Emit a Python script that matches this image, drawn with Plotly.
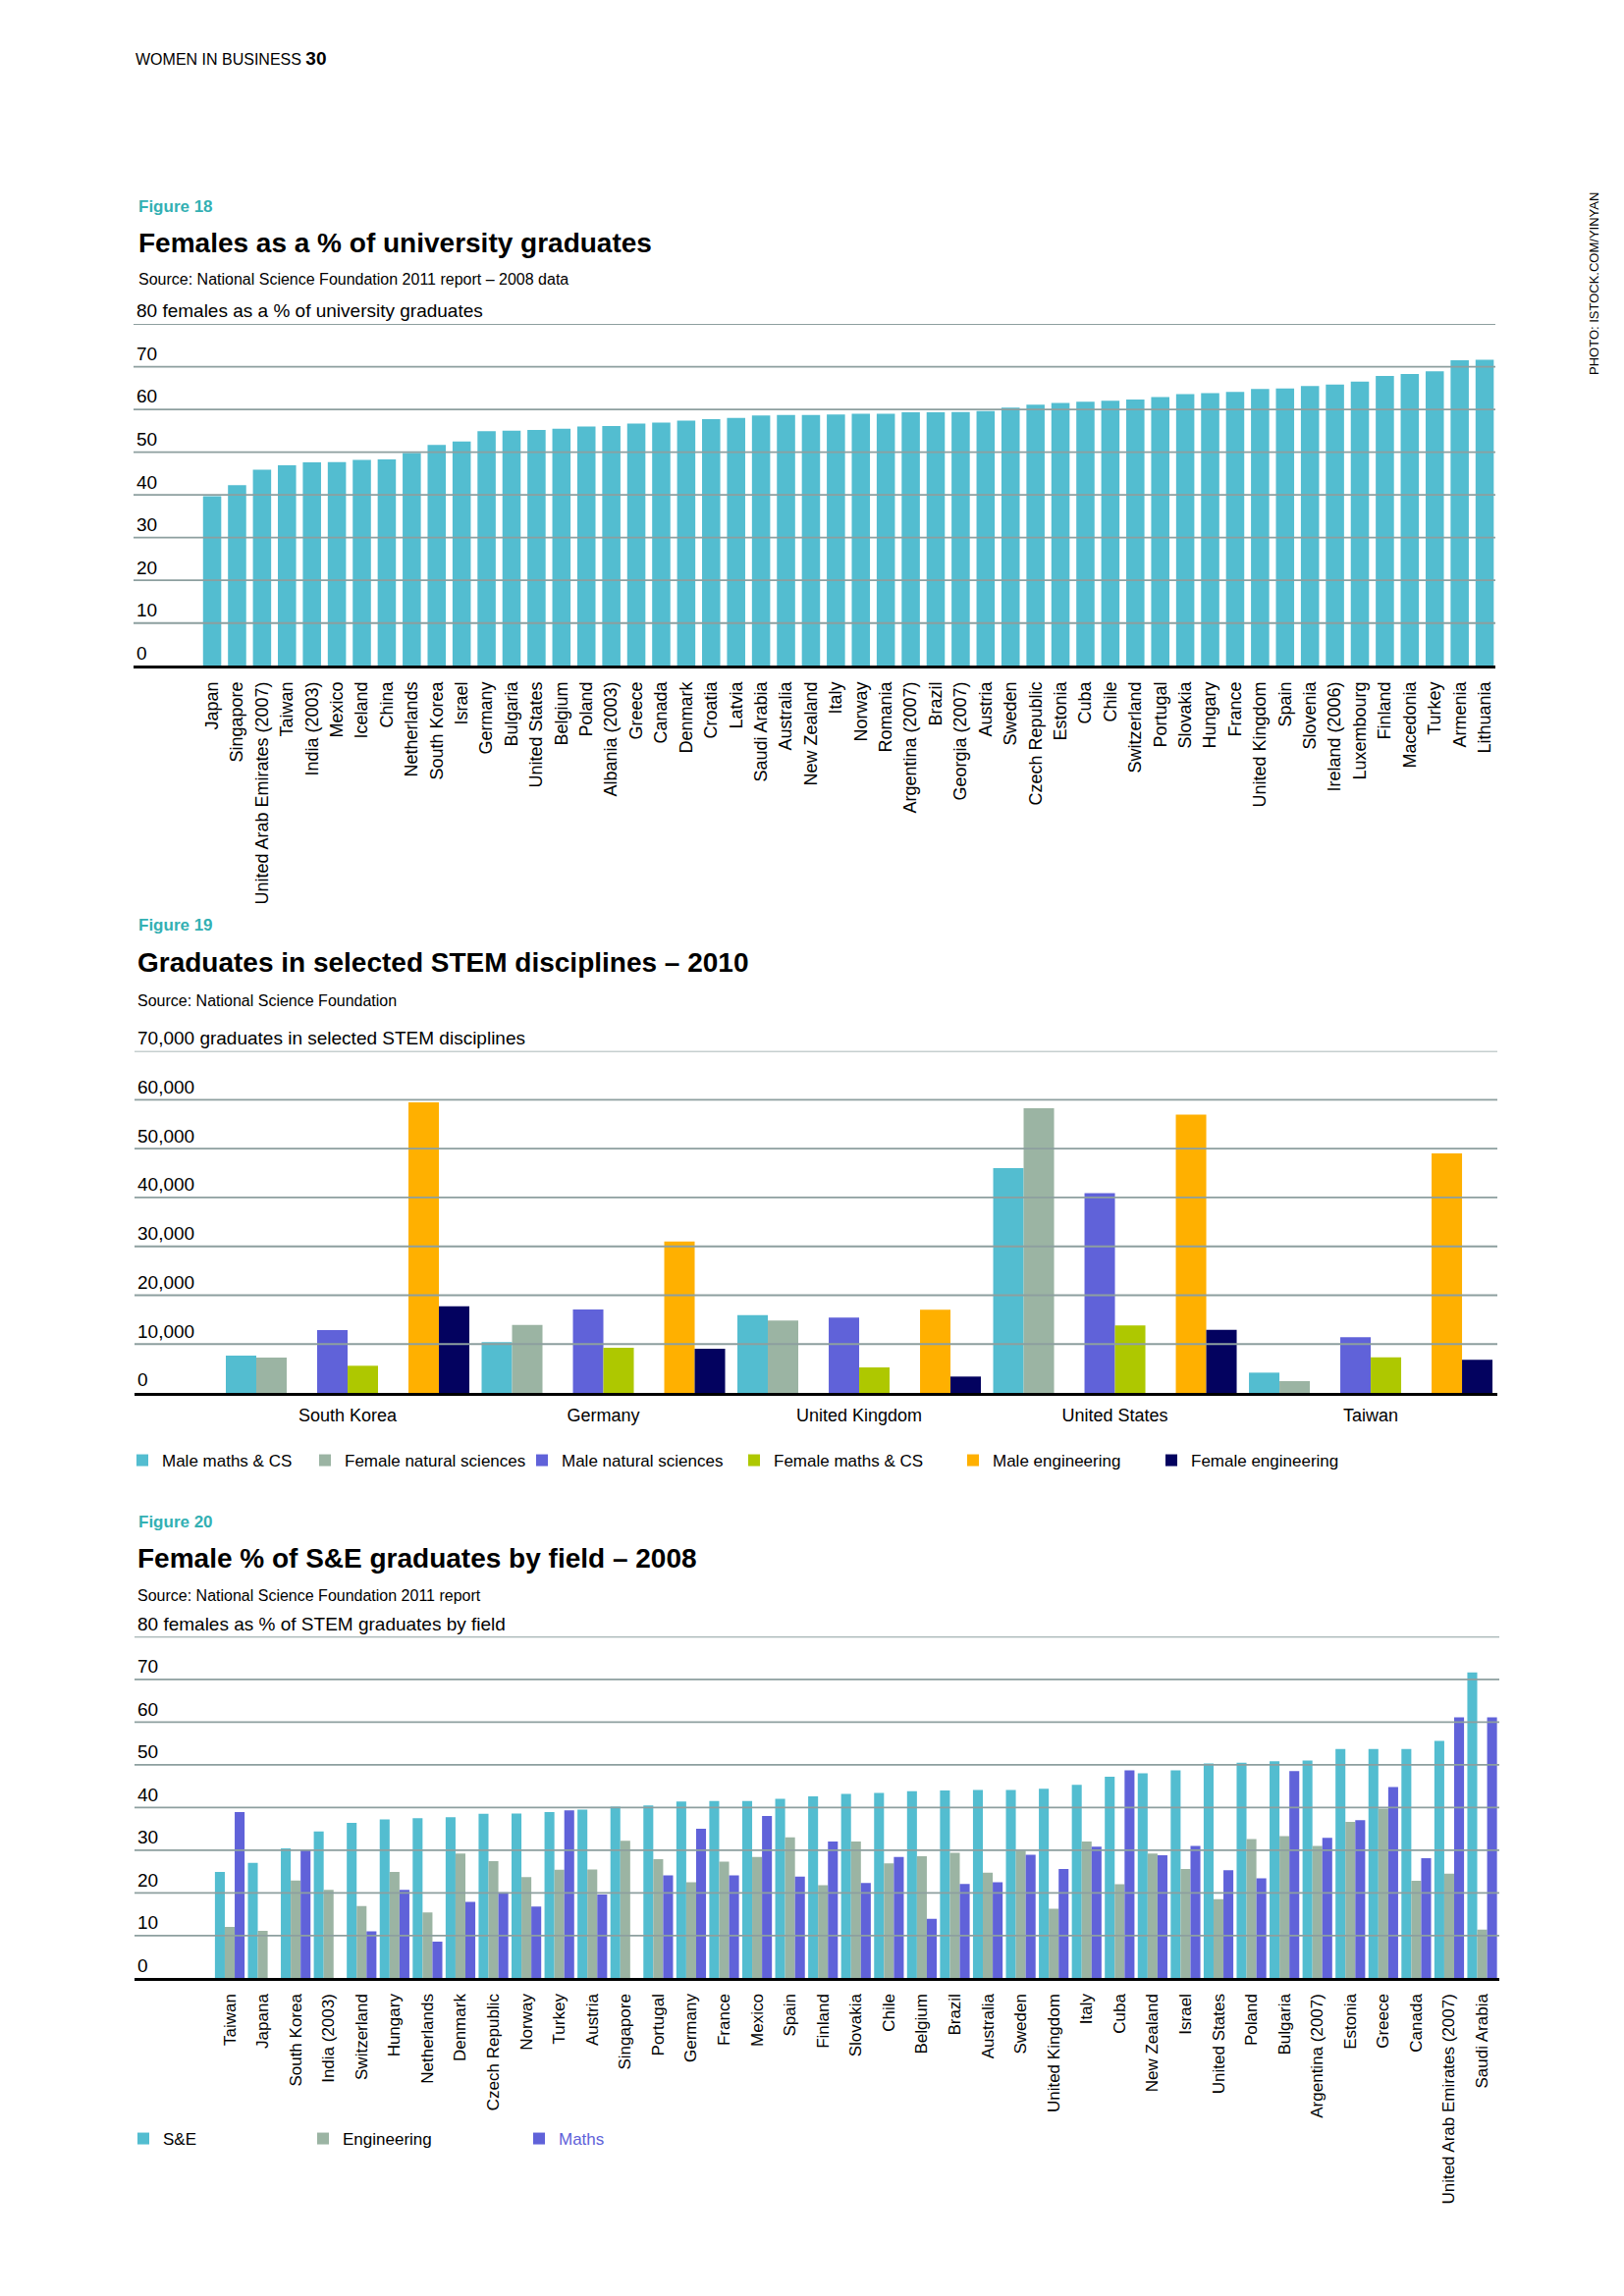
import plotly.graph_objects as go

# ---------------- DATA ----------------
fig18_countries = ["Japan", "Singapore", "United Arab Emirates (2007)", "Taiwan", "India (2003)", "Mexico",
                   "Iceland", "China", "Netherlands", "South Korea", "Israel", "Germany", "Bulgaria",
                   "United States", "Belgium", "Poland", "Albania (2003)", "Greece", "Canada", "Denmark",
                   "Croatia", "Latvia", "Saudi Arabia", "Australia", "New Zealand", "Italy", "Norway",
                   "Romania", "Argentina (2007)", "Brazil", "Georgia (2007)", "Austria", "Sweden",
                   "Czech Republic", "Estonia", "Cuba", "Chile", "Switzerland", "Portugal", "Slovakia",
                   "Hungary", "France", "United Kingdom", "Spain", "Slovenia", "Ireland (2006)",
                   "Luxembourg", "Finland", "Macedonia", "Turkey", "Armenia", "Lithuania"]
fig18_values = [39.7, 42.3, 45.9, 46.9, 47.6, 47.7, 48.2, 48.3, 49.8, 51.7, 52.5, 54.9, 55.0,
                55.2, 55.5, 56.0, 56.1, 56.7, 56.9, 57.4, 57.7, 58.0, 58.6, 58.7, 58.7, 58.8, 59.0,
                59.0, 59.3, 59.3, 59.4, 59.6, 60.4, 61.1, 61.5, 61.8, 62.0, 62.3, 62.9, 63.6,
                63.8, 64.1, 64.8, 64.9, 65.5, 65.8, 66.5, 67.8, 68.3, 68.9, 71.5, 71.6]
fig18_ticks = [0, 10, 20, 30, 40, 50, 60, 70, 80]
fig18_ticktext = ["0", "10", "20", "30", "40", "50", "60", "70", "80 females as a % of university graduates"]

fig19_countries = ["South Korea", "Germany", "United Kingdom", "United States", "Taiwan"]
male_maths_cs = [7640, 10380, 15940, 46010, 4150]
female_natural_sciences = [7230, 13930, 14800, 58270, 2410]
male_natural_sciences = [12860, 17080, 15400, 40920, 11390]
female_maths_cs = [5560, 9240, 5220, 13800, 7300]
male_engineering = [59480, 31010, 17010, 57000, 49030]
female_engineering = [17750, 9040, 3350, 12930, 6770]
fig19_ticks = [0, 10000, 20000, 30000, 40000, 50000, 60000, 70000]
fig19_ticktext = ["0", "10,000", "20,000", "30,000", "40,000", "50,000", "60,000",
                  "70,000 graduates in selected STEM disciplines"]

fig20_countries = ["Taiwan", "Japana", "South Korea", "India (2003)", "Switzerland", "Hungary",
                   "Netherlands", "Denmark", "Czech Republic", "Norway", "Turkey", "Austria",
                   "Singapore", "Portugal", "Germany", "France", "Mexico", "Spain", "Finland",
                   "Slovakia", "Chile", "Belgium", "Brazil", "Australia", "Sweden", "United Kingdom",
                   "Italy", "Cuba", "New Zealand", "Israel", "United States", "Poland", "Bulgaria",
                   "Argentina (2007)", "Estonia", "Greece", "Canada", "United Arab Emirates (2007)",
                   "Saudi Arabia"]
se_values = [24.9, 27.0, 30.4, 34.4, 36.4, 37.2, 37.5, 37.7, 38.5, 38.6, 38.9, 39.5, 40.2, 40.5,
             41.4, 41.5, 41.5, 42.0, 42.6, 43.2, 43.4, 43.8, 44.0, 44.1, 44.1, 44.4, 45.3, 47.2,
             48.0, 48.7, 50.3, 50.5, 50.8, 51.0, 53.7, 53.7, 53.7, 55.6, 71.6]
engineering_values = [12.0, 11.1, 22.9, 20.7, 16.9, 24.9, 15.4, 29.2, 27.4, 23.7, 25.4, 25.5, 32.2,
                      27.9, 22.5, 27.3, 28.4, 33.0, 21.8, 32.0, 26.9, 28.6, 29.4, 24.7, 29.9, 16.3,
                      32.0, 22.0, 29.2, 25.6, 18.5, 32.6, 33.3, 31.0, 36.6, 39.7, 22.8, 24.5, 11.4]
maths_values = [38.9, None, 30.2, None, 11.0, 20.7, 8.6, 17.9, 20.1, 16.8, 39.3, 19.6, None, 24.1,
                35.0, 24.1, 38.0, 23.8, 32.0, 22.3, 28.4, 13.9, 22.1, 22.5, 28.9, 25.6, 30.8, 48.7,
                28.8, 31.0, 25.3, 23.4, 48.5, 32.9, 37.0, 44.8, 28.1, 61.1, 61.1]
fig20_ticks = [0, 10, 20, 30, 40, 50, 60, 70, 80]
fig20_ticktext = ["0", "10", "20", "30", "40", "50", "60", "70", "80 females as % of STEM graduates by field"]

# ---------------- STYLE ----------------
W, H = 1654, 2339
FONT = "Liberation Sans, Arial, sans-serif"
TEAL = "#33b0b3"
CYAN = "#53bdd0"
GREY = "#9bb4a3"
BLUE = "#6062d9"
GREEN = "#aec800"
ORANGE = "#ffb000"
NAVY = "#03025f"
GRID = "#8d9f9f"


def fx(p):
    return p / W


def fy(p):
    return 1 - p / H


fig = go.Figure()

# Figure 18
fig.add_trace(go.Bar(x=fig18_countries, y=fig18_values, marker=dict(color=CYAN, line=dict(width=0)),
                     width=0.73, showlegend=False, xaxis="x", yaxis="y"))

# Figure 19
bw = 0.119
pair = 0.357
fig19_series = [
    ("Male maths & CS", male_maths_cs, CYAN, -pair - bw, 143),
    ("Female natural sciences", female_natural_sciences, GREY, -pair, 329),
    ("Male natural sciences", male_natural_sciences, BLUE, -bw, 550),
    ("Female maths & CS", female_maths_cs, GREEN, 0.0, 766),
    ("Male engineering", male_engineering, ORANGE, pair - bw, 989),
    ("Female engineering", female_engineering, NAVY, pair, 1191),
]
legend_layouts = {}
for i, (name, vals, col, off, sq) in enumerate(fig19_series):
    lname = "legend" if i == 0 else f"legend{i + 1}"
    fig.add_trace(go.Bar(x=fig19_countries, y=vals, name=name, marker=dict(color=col, line=dict(width=0)),
                         offset=off, width=bw, xaxis="x2", yaxis="y2", legend=lname))
    legend_layouts[lname] = dict(x=fx(sq - 18), y=fy(1488), xanchor="left", yanchor="middle",
                                 orientation="h", bgcolor="rgba(0,0,0,0)",
                                 font=dict(family=FONT, size=17, color="#000000"))

# Figure 20
fig20_series = [
    ("S&E", se_values, CYAN, 144, "#000000"),
    ("Engineering", engineering_values, GREY, 327, "#000000"),
    ("Maths", maths_values, BLUE, 547, BLUE),
]
for j, (name, vals, col, sq, tcol) in enumerate(fig20_series):
    lname = f"legend{7 + j}"
    fig.add_trace(go.Bar(x=fig20_countries, y=vals, name=name, marker=dict(color=col, line=dict(width=0)),
                         xaxis="x3", yaxis="y3", legend=lname))
    legend_layouts[lname] = dict(x=fx(sq - 18), y=fy(2179), xanchor="left", yanchor="middle",
                                 orientation="h", bgcolor="rgba(0,0,0,0)",
                                 font=dict(family=FONT, size=17, color=tcol))

tickfont_y = dict(family=FONT, size=19, color="#000000")


def yaxis_cfg(top, bottom, rng, ticks, ticktext, anchor):
    return dict(domain=[fy(bottom), fy(top)], range=rng, tickmode="array", tickvals=ticks,
                ticktext=ticktext, ticklabelposition="inside top", ticklabeloverflow="allow",
                showgrid=False, zeroline=False, automargin=False,
                ticks="", tickfont=tickfont_y, anchor=anchor, fixedrange=True)


def xaxis_cfg(left, right, rng, angle, size, anchor, standoff):
    return dict(domain=[fx(left), fx(right)], range=rng, type="category", tickangle=angle,
                tickfont=dict(family=FONT, size=size, color="#000000"), showgrid=False, ticks="",
                showline=True, linecolor="#000000", linewidth=3, anchor=anchor, automargin=False,
                ticklabelstandoff=standoff, fixedrange=True)


fig.update_layout(
    width=W, height=H, autosize=False, margin=dict(l=0, r=0, t=0, b=0, pad=0, autoexpand=False),
    paper_bgcolor="#ffffff", plot_bgcolor="#ffffff",
    barmode="group", bargap=0.1, bargroupgap=0.0,
    font=dict(family=FONT, color="#000000"),
    xaxis=xaxis_cfg(136, 1523, [-3.15, 51.43], -90, 18, "y", 6),
    yaxis=yaxis_cfg(330, 678.3, [0, 80], fig18_ticks, fig18_ticktext, "x"),
    xaxis2=xaxis_cfg(137, 1525, [-0.833, 4.495], 0, 18, "y2", 4),
    yaxis2=yaxis_cfg(1070.7, 1419, [0, 70000], fig19_ticks, fig19_ticktext, "x2"),
    xaxis3=xaxis_cfg(137, 1527, [-2.89, 38.52], -90, 17, "y3", 6),
    yaxis3=yaxis_cfg(1667.3, 2015.3, [0, 80], fig20_ticks, fig20_ticktext, "x3"),
    **legend_layouts,
)

# gridlines drawn above the bars, at the tick values
shapes = []
for axname, ticks in (("", fig18_ticks), ("2", fig19_ticks), ("3", fig20_ticks)):
    for v in ticks[1:]:
        shapes.append(dict(type="line", xref=f"x{axname} domain", yref=f"y{axname}", x0=0, x1=1,
                           y0=v, y1=v, line=dict(color=GRID, width=1.8), layer="above"))
fig.update_layout(shapes=shapes)

# ---------------- TEXT ----------------
ann = []


def text(x, y, s, size, color="#000000", bold=False, angle=0, xanchor="left"):
    ann.append(dict(x=fx(x), y=fy(y), xref="paper", yref="paper", text=(f"<b>{s}</b>" if bold else s),
                    showarrow=False, xanchor=xanchor, yanchor="middle", textangle=angle,
                    font=dict(family=FONT, size=size, color=color)))


text(136, 60, "WOMEN IN BUSINESS <b><span style='font-size:19px'>30</span></b>", 16)
text(1623, 289, "PHOTO: ISTOCK.COM/YINYAN", 13, angle=-90, xanchor="center")

text(139, 210, "Figure 18", 17, TEAL, bold=True)
text(139, 247, "Females as a % of university graduates", 28, bold=True)
text(139, 284, "Source: National Science Foundation 2011 report – 2008 data", 16)

text(139, 942, "Figure 19", 17, TEAL, bold=True)
text(138, 981, "Graduates in selected STEM disciplines – 2010", 28, bold=True)
text(138, 1019, "Source: National Science Foundation", 16)

text(139, 1550, "Figure 20", 17, TEAL, bold=True)
text(138, 1587, "Female % of S&amp;E graduates by field – 2008", 28, bold=True)
text(138, 1626, "Source: National Science Foundation 2011 report", 16)

fig.update_layout(annotations=ann)

post = ("document.documentElement.style.margin='0px';"
        "document.body.style.margin='0px';"
        "document.body.style.overflow='hidden';"
        "var d=document.getElementById('{plot_id}');"
        "d.style.position='absolute';d.style.top='0px';d.style.left='0px';")
fig.write_html("out.html", config={"displayModeBar": False}, post_script=post)
